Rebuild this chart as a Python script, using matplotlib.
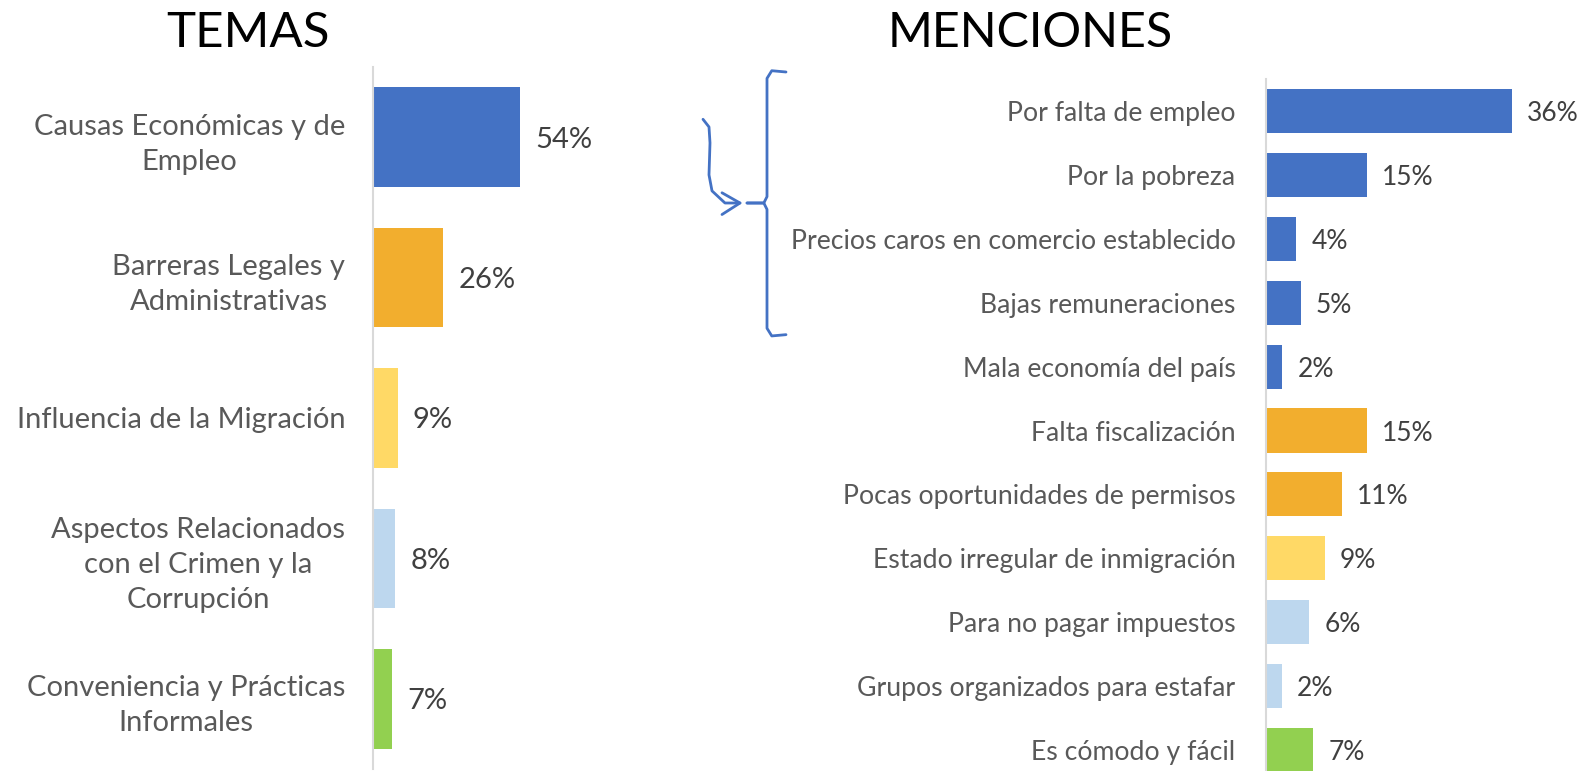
import matplotlib.pyplot as plt
from matplotlib.transforms import blended_transform_factory

plt.rcParams['font.family'] = ['Lato', 'DejaVu Sans']

# Left panel: themes
temas = ["Causas Económicas y de\nEmpleo", "Barreras Legales y\nAdministrativas",
         "Influencia de la Migración", "Aspectos Relacionados\ncon el Crimen y la\nCorrupción",
         "Conveniencia y Prácticas\nInformales"]
temas_pct = [53.8, 25.6, 9.0, 8.2, 7.1]
temas_colors = ["#4472C4", "#F2AE2E", "#FFD966", "#BDD7EE", "#92D050"]

# Right panel: mentions
menciones = ["Por falta de empleo", "Por la pobreza", "Precios caros en comercio establecido",
             "Bajas remuneraciones", "Mala economía del país", "Falta fiscalización",
             "Pocas oportunidades de permisos", "Estado irregular de inmigración",
             "Para no pagar impuestos", "Grupos organizados para estafar", "Es cómodo y fácil"]
menciones_pct = [36.0, 14.8, 4.4, 5.1, 2.4, 14.8, 11.1, 8.6, 6.3, 2.3, 6.9]
menciones_colors = ["#4472C4"] * 5 + ["#F2AE2E"] * 2 + ["#FFD966"] + ["#BDD7EE"] * 2 + ["#92D050"]

label_color = "#595959"
value_color = "#404040"

fig = plt.figure(figsize=(15.86, 7.71), dpi=100)

def style_axis(ax, pad):
    for s in ["top", "right", "bottom"]:
        ax.spines[s].set_visible(False)
    ax.spines["left"].set_color("#D9D9D9")
    ax.spines["left"].set_linewidth(1.5)
    ax.set_xticks([])
    ax.tick_params(axis="y", length=0, pad=pad, colors=label_color)
    ax.set_facecolor("none")

# left chart
ax1 = fig.add_axes([0.2352, 0.0026, 0.1034, 0.9105])
y1 = range(len(temas))
bars1 = ax1.barh(y1, temas_pct, height=0.71, color=temas_colors)
ax1.set_yticks(list(y1))
ax1.set_yticklabels(temas, fontsize=21)
for lbl in ax1.get_yticklabels():
    lbl.set_multialignment("center")
    lbl.set_linespacing(1.42)
ax1.set_ylim(len(temas) - 0.5, -0.5)
ax1.set_xlim(0, 60)
style_axis(ax1, 20)
for t in ax1.bar_label(bars1, labels=[f"{v:.0f}%" for v in temas_pct], padding=11,
                       fontsize=21, color=value_color):
    t.set_va("center_baseline")

# right chart
ax2 = fig.add_axes([0.7982, -0.0143, 0.1722, 0.9118])
y2 = range(len(menciones))
bars2 = ax2.barh(y2, menciones_pct, height=0.69, color=menciones_colors)
ax2.set_yticks(list(y2))
ax2.set_yticklabels(menciones, fontsize=19.2)
ax2.set_ylim(len(menciones) - 0.5, -0.5)
ax2.set_xlim(0, 40)
style_axis(ax2, 22)
for t in ax2.bar_label(bars2, labels=[f"{v:.0f}%" for v in menciones_pct], padding=11,
                       fontsize=19, color=value_color):
    t.set_va("center_baseline")

# titles
fig.text(0.1564, 0.957, "TEMAS", fontsize=35.5, ha="center", va="center", color="black")
fig.text(0.6495, 0.957, "MENCIONES", fontsize=34.8, ha="center", va="center", color="black")

# brace grouping the first four mentions, with hand-drawn arrow
tr = blended_transform_factory(fig.transFigure, ax2.transData)
bc = "#4472C4"
xv = 767 / 1586
xt = 786 / 1586
xm = 747 / 1586
ytop, ybot, ymid = -0.61, 3.5, 1.44
ax2.plot([xt, xv + 0.003, xv, xv, xv - 0.002, xm], [ytop, ytop - 0.02, ytop + 0.1, ymid - 0.1, ymid, ymid],
         transform=tr, color=bc, lw=2, clip_on=False, solid_capstyle="round")
ax2.plot([xm, xv - 0.002, xv, xv, xv + 0.003, xt], [ymid, ymid, ymid + 0.1, ybot - 0.1, ybot + 0.02, ybot],
         transform=tr, color=bc, lw=2, clip_on=False, solid_capstyle="round")
ax2.plot([703 / 1586, 709 / 1586, 710 / 1586, 709 / 1586, 712 / 1586, 725 / 1586, 740 / 1586],
         [0.13, 0.25, 0.5, 1.0, 1.25, 1.44, 1.44],
         transform=tr, color=bc, lw=2, clip_on=False, solid_capstyle="round")
ax2.plot([722 / 1586, 740 / 1586, 722 / 1586], [1.28, 1.44, 1.62],
         transform=tr, color=bc, lw=2, clip_on=False, solid_capstyle="round")

fig.savefig("out.png", dpi=100)
